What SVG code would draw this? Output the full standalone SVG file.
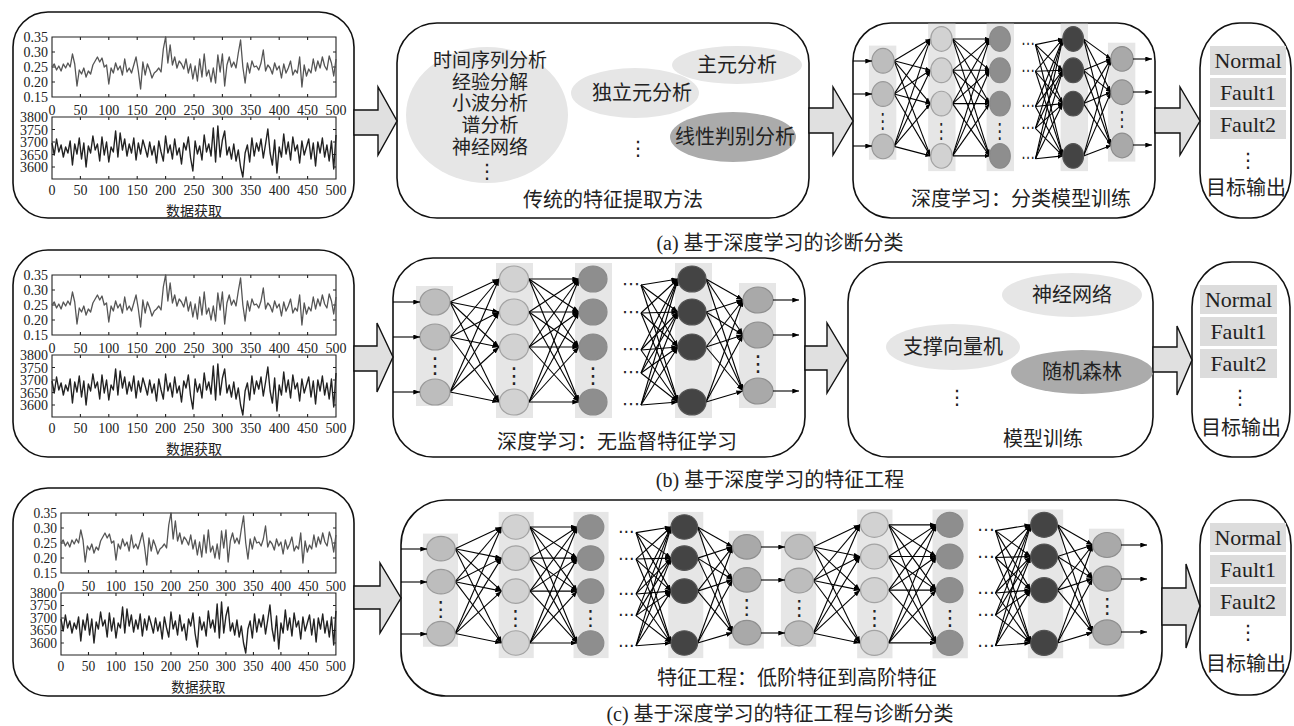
<svg xmlns="http://www.w3.org/2000/svg" width="1294" height="726" viewBox="0 0 1294 726">
<style>
.box{fill:#fff;stroke:#111;stroke-width:1.6}
.barr{fill:#e0e0e0;stroke:#111;stroke-width:1.4}
.bg{fill:#e6e6e6}
.e{fill:none;stroke:#000;stroke-width:1.1;marker-end:url(#ah);vector-effect:non-scaling-stroke}
.n1{fill:#bdbdbd;stroke:#999;stroke-width:1.2;vector-effect:non-scaling-stroke}
.n2{fill:#d2d2d2;stroke:#a3a3a3;stroke-width:1.2;vector-effect:non-scaling-stroke}
.n3{fill:#8e8e8e;stroke:#8a8a8a;stroke-width:1.2;vector-effect:non-scaling-stroke}
.n4{fill:#444;stroke:#555;stroke-width:1.2;vector-effect:non-scaling-stroke}
.n5{fill:#a9a9a9;stroke:#8e8e8e;stroke-width:1.2;vector-effect:non-scaling-stroke}
.cj{font-family:"Noto Sans CJK SC",sans-serif;font-size:20px;fill:#222;text-anchor:middle}
.cir{font-size:19px}
.cap{font-family:"Liberation Serif","Noto Sans CJK SC",serif;font-size:20px;fill:#222;text-anchor:middle}
.ax{font-family:"Liberation Serif",serif;font-size:14px;fill:#222}
.ay{text-anchor:end}
.axx{text-anchor:middle}
.fr{fill:none;stroke:#222;stroke-width:1.1;vector-effect:non-scaling-stroke}
.s1{fill:none;stroke:#555;stroke-width:1.3;stroke-linejoin:round;vector-effect:non-scaling-stroke}
.s2{fill:none;stroke:#222;stroke-width:1.4;stroke-linejoin:round;vector-effect:non-scaling-stroke}
.lt{fill:#e6e6e6}
.dk{fill:#ababab}
.lab{fill:#dcdcdc}
.nm{font-family:"Liberation Serif",serif;font-size:22px;fill:#222;text-anchor:middle}
.dt{font-family:"DejaVu Sans",sans-serif;fill:#222;text-anchor:middle}
</style>
<defs>
<marker id="ah" viewBox="0 0 8 6" refX="8" refY="3" markerWidth="7" markerHeight="5" orient="auto" markerUnits="userSpaceOnUse"><path d="M0,0L8,3L0,6z" fill="#000"/></marker>
<g id="plot">
<rect class="fr" x="0" y="0" width="284" height="60"/>
<rect class="fr" x="0" y="80" width="284" height="62"/>
<path class="fr" d="M28.4,0v3M56.8,0v3M85.2,0v3M113.6,0v3M142,0v3M170.4,0v3M198.8,0v3M227.2,0v3M255.6,0v3M28.4,60v-3M56.8,60v-3M85.2,60v-3M113.6,60v-3M142,60v-3M170.4,60v-3M198.8,60v-3M227.2,60v-3M255.6,60v-3M28.4,80v3M56.8,80v3M85.2,80v3M113.6,80v3M142,80v3M170.4,80v3M198.8,80v3M227.2,80v3M255.6,80v3M28.4,142v-3M56.8,142v-3M85.2,142v-3M113.6,142v-3M142,142v-3M170.4,142v-3M198.8,142v-3M227.2,142v-3M255.6,142v-3M0,15h3M0,30h3M0,45h3M284,15h-3M284,30h-3M284,45h-3M0,92.5h3M0,105h3M0,117.5h3M0,130h3M284,92.5h-3M284,105h-3M284,117.5h-3M284,130h-3"/>
<polyline class="s1" transform="scale(0.568,1)" points="0,30 4,27 8,33 12,29 16,34 20,27 24,31 28,26 32,30 36,17 40,27 44,49 48,33 52,37 56,31 60,40 64,34 68,37 72,28 76,24 80,20 84,25 88,21 92,30 96,28 100,47 104,31 108,36 112,26 116,33 120,29 124,38 128,22 132,35 136,31 140,36 144,28 148,20 152,34 156,52 160,25 164,38 168,27 172,33 176,41 180,36 184,34 188,31 192,35 196,12 200,0 204,26 208,8 212,28 216,20 220,31 224,24 228,27 232,32 236,22 240,36 244,27 248,42 252,29 256,44 260,22 264,40 268,17 272,39 276,33 280,45 284,31 288,46 292,18 296,35 300,17 304,49 308,28 312,20 316,30 320,25 324,31 328,16 332,3 336,30 340,46 344,26 348,36 352,24 356,30 360,29 364,33 368,26 372,13 376,34 380,28 384,31 388,37 392,26 396,33 400,29 404,41 408,27 412,36 416,31 420,24 424,38 428,33 432,36 436,20 440,50 444,28 448,39 452,32 456,36 460,22 464,34 468,24 472,31 476,20 480,29 484,33 488,19 492,26 496,39 500,22"/>
<polyline class="s2" transform="translate(0,80) scale(0.568,1)" points="0,26 4,38 8,22 12,35 16,28 20,40 24,30 28,36 32,24 36,48 40,27 44,37 48,21 52,42 56,26 60,50 64,29 68,36 72,19 76,33 80,27 84,44 88,20 92,38 96,25 100,45 104,30 108,35 112,14 116,40 120,16 124,33 128,22 132,39 136,27 140,36 144,21 148,43 152,26 156,37 160,23 164,31 168,40 172,25 176,38 180,29 184,46 188,24 192,35 196,44 200,19 204,36 208,28 212,42 216,22 220,38 224,31 228,47 232,26 236,33 240,20 244,41 248,54 252,24 256,37 260,29 264,43 268,18 272,35 276,27 280,39 284,11 288,45 292,9 296,40 300,23 304,14 308,38 312,30 316,42 320,27 324,44 328,33 332,50 336,60 340,36 344,28 348,45 352,21 356,39 360,26 364,34 368,22 372,41 376,27 380,12 384,36 388,48 392,23 396,56 400,30 404,40 408,17 412,37 416,25 420,43 424,20 428,34 432,28 436,46 440,24 444,38 448,30 452,22 456,42 460,26 464,49 468,25 472,36 476,21 480,40 484,28 488,44 492,24 496,52 500,18"/>
<g class="ax ay">
<text x="-4" y="5">0.35</text><text x="-4" y="20">0.30</text><text x="-4" y="35">0.25</text><text x="-4" y="50">0.20</text><text x="-4" y="65">0.15</text>
<text x="-4" y="85">3800</text><text x="-4" y="97.5">3750</text><text x="-4" y="110">3700</text><text x="-4" y="122.5">3650</text><text x="-4" y="135">3600</text>
</g>
<g class="ax axx">
<text x="0" y="78">0</text><text x="28.4" y="78">50</text><text x="56.8" y="78">100</text><text x="85.2" y="78">150</text><text x="113.6" y="78">200</text><text x="142" y="78">250</text><text x="170.4" y="78">300</text><text x="198.8" y="78">350</text><text x="227.2" y="78">400</text><text x="255.6" y="78">450</text><text x="284" y="78">500</text>
<text x="0" y="158">0</text><text x="28.4" y="158">50</text><text x="56.8" y="158">100</text><text x="85.2" y="158">150</text><text x="113.6" y="158">200</text><text x="142" y="158">250</text><text x="170.4" y="158">300</text><text x="198.8" y="158">350</text><text x="227.2" y="158">400</text><text x="255.6" y="158">450</text><text x="284" y="158">500</text>
</g>
<text class="cj" x="142" y="179" style="font-size:14px">数据获取</text>
</g>
<g id="net">
<rect class="bg" x="416" y="286" width="37" height="120"/>
<rect class="bg" x="496" y="263" width="37" height="155"/>
<rect class="bg" x="575" y="263" width="37" height="155"/>
<rect class="bg" x="675" y="263" width="37" height="155"/>
<rect class="bg" x="739" y="283" width="37" height="125"/>
<path class="e" d="M450,302L499,279"/><path class="e" d="M450,302L499,312"/><path class="e" d="M450,302L499,347"/><path class="e" d="M450,302L499,402"/>
<path class="e" d="M450,337L499,279"/><path class="e" d="M450,337L499,312"/><path class="e" d="M450,337L499,347"/><path class="e" d="M450,337L499,402"/>
<path class="e" d="M450,392L499,279"/><path class="e" d="M450,392L499,312"/><path class="e" d="M450,392L499,347"/><path class="e" d="M450,392L499,402"/>
<path class="e" d="M529,279L579,279"/><path class="e" d="M529,279L579,312"/><path class="e" d="M529,279L579,347"/><path class="e" d="M529,279L579,402"/>
<path class="e" d="M529,312L579,279"/><path class="e" d="M529,312L579,312"/><path class="e" d="M529,312L579,347"/><path class="e" d="M529,312L579,402"/>
<path class="e" d="M529,347L579,279"/><path class="e" d="M529,347L579,312"/><path class="e" d="M529,347L579,347"/><path class="e" d="M529,347L579,402"/>
<path class="e" d="M529,402L579,279"/><path class="e" d="M529,402L579,312"/><path class="e" d="M529,402L579,347"/><path class="e" d="M529,402L579,402"/>
<path class="e" d="M641,285L678,279"/><path class="e" d="M641,285L678,312"/><path class="e" d="M641,285L678,347"/><path class="e" d="M641,285L678,402"/>
<path class="e" d="M641,313L678,279"/><path class="e" d="M641,313L678,312"/><path class="e" d="M641,313L678,347"/><path class="e" d="M641,313L678,402"/>
<path class="e" d="M641,350L678,279"/><path class="e" d="M641,350L678,312"/><path class="e" d="M641,350L678,347"/><path class="e" d="M641,350L678,402"/>
<path class="e" d="M641,373L678,279"/><path class="e" d="M641,373L678,312"/><path class="e" d="M641,373L678,347"/><path class="e" d="M641,373L678,402"/>
<path class="e" d="M641,405L678,279"/><path class="e" d="M641,405L678,312"/><path class="e" d="M641,405L678,347"/><path class="e" d="M641,405L678,402"/>
<path class="e" d="M706,279L743,300"/><path class="e" d="M706,279L743,335"/><path class="e" d="M706,279L743,391"/>
<path class="e" d="M706,312L743,300"/><path class="e" d="M706,312L743,335"/><path class="e" d="M706,312L743,391"/>
<path class="e" d="M706,347L743,300"/><path class="e" d="M706,347L743,335"/><path class="e" d="M706,347L743,391"/>
<path class="e" d="M706,402L743,300"/><path class="e" d="M706,402L743,335"/><path class="e" d="M706,402L743,391"/>
<ellipse class="n1" cx="435" cy="302" rx="15" ry="13"/><ellipse class="n1" cx="435" cy="337" rx="15" ry="13"/><ellipse class="n1" cx="435" cy="392" rx="15" ry="13"/>
<ellipse class="n2" cx="514" cy="279" rx="14.5" ry="13"/><ellipse class="n2" cx="514" cy="312" rx="14.5" ry="13"/><ellipse class="n2" cx="514" cy="347" rx="14.5" ry="13"/><ellipse class="n2" cx="514" cy="402" rx="14.5" ry="13"/>
<ellipse class="n3" cx="593" cy="279" rx="14" ry="13"/><ellipse class="n3" cx="593" cy="312" rx="14" ry="13"/><ellipse class="n3" cx="593" cy="347" rx="14" ry="13"/><ellipse class="n3" cx="593" cy="402" rx="14" ry="13"/>
<ellipse class="n4" cx="692" cy="279" rx="14" ry="13"/><ellipse class="n4" cx="692" cy="312" rx="14" ry="13"/><ellipse class="n4" cx="692" cy="347" rx="14" ry="13"/><ellipse class="n4" cx="692" cy="402" rx="14" ry="13"/>
<ellipse class="n5" cx="758" cy="300" rx="15" ry="13"/><ellipse class="n5" cx="758" cy="335" rx="15" ry="13"/><ellipse class="n5" cx="758" cy="391" rx="15" ry="13"/>
<g class="dt" style="font-size:22px">
<text x="435" y="373">⋮</text><text x="514" y="383">⋮</text><text x="593" y="383">⋮</text><text x="758" y="371">⋮</text>
</g>
<g class="dt" style="font-size:18px">
<text x="631" y="290">⋯</text><text x="631" y="318">⋯</text><text x="631" y="355">⋯</text><text x="631" y="378">⋯</text><text x="631" y="410">⋯</text>
</g>
</g>
</defs>
<rect width="1294" height="726" fill="#fff"/>

<!-- Row (a) -->
<g id="a-data">
<rect class="box" x="13" y="12" width="341" height="206" rx="35"/>
<use href="#plot" transform="translate(52,37)"/>
</g>
<g id="a-traditional">
<rect class="box" x="397" y="23" width="412" height="195" rx="40"/>
<ellipse class="lt" cx="487" cy="115" rx="81" ry="68"/>
<ellipse class="lt" cx="737" cy="65" rx="65" ry="19"/>
<ellipse class="lt" cx="635" cy="93" rx="64" ry="25"/>
<ellipse class="dk" cx="733" cy="137" rx="63" ry="25"/>
<g class="cj">
<text class="cir" x="490" y="67">时间序列分析</text>
<text class="cir" x="490" y="89">经验分解</text>
<text class="cir" x="490" y="110">小波分析</text>
<text class="cir" x="490" y="132">谱分析</text>
<text class="cir" x="490" y="154">神经网络</text>
<text x="737" y="72">主元分析</text>
<text x="642" y="100">独立元分析</text>
<text x="735" y="144">线性判别分析</text>
<text x="613" y="207">传统的特征提取方法</text>
</g>
<g class="dt" style="font-size:20px"><text x="487" y="178">⋮</text><text x="638" y="155">⋮</text></g>
</g>
<g id="a-deep-learning">
<rect class="box" x="853" y="23" width="302" height="195" rx="38"/>
<use href="#net" transform="matrix(0.74,0,0,0.951,561.1,-226.4)"/>
<path class="e" d="M853,61H872"/><path class="e" d="M853,94H872"/><path class="e" d="M853,146H872"/>
<path class="e" d="M1133,59H1152"/><path class="e" d="M1133,92H1152"/><path class="e" d="M1133,145H1152"/>
<text class="cj" x="1021" y="206">深度学习：分类模型训练</text>
</g>
<g id="a-output">
<rect class="box" x="1200" y="23" width="91" height="195" rx="40" ry="45"/>
<rect class="lab" x="1210" y="46" width="76" height="29"/>
<rect class="lab" x="1210" y="78" width="76" height="29"/>
<rect class="lab" x="1210" y="110" width="76" height="29"/>
<text class="nm" x="1248" y="68">Normal</text>
<text class="nm" x="1248" y="100">Fault1</text>
<text class="nm" x="1248" y="132">Fault2</text>
<text class="dt" x="1248" y="167" style="font-size:20px">⋮</text>
<text class="cj" x="1246" y="195">目标输出</text>
</g>
<text class="cap" x="780" y="250">(a) 基于深度学习的诊断分类</text>

<!-- Row (b) -->
<g id="b-data">
<rect class="box" x="13" y="250" width="341" height="207" rx="35"/>
<use href="#plot" transform="translate(52,275)"/>
</g>
<g id="b-deep-learning">
<rect class="box" x="393" y="258" width="412" height="199" rx="40"/>
<use href="#net"/>
<path class="e" d="M393,302H420"/><path class="e" d="M393,337H420"/><path class="e" d="M393,392H420"/>
<path class="e" d="M773,300H799"/><path class="e" d="M773,335H799"/><path class="e" d="M773,391H799"/>
<text class="cj" x="617" y="449">深度学习：无监督特征学习</text>
</g>
<g id="b-model">
<rect class="box" x="848" y="262" width="305" height="195" rx="40"/>
<ellipse class="lt" cx="1072" cy="295" rx="70" ry="22"/>
<ellipse class="lt" cx="953" cy="347" rx="67" ry="23"/>
<ellipse class="dk" cx="1082" cy="372" rx="71" ry="22"/>
<g class="cj">
<text x="1072" y="302">神经网络</text>
<text x="953" y="354">支撑向量机</text>
<text x="1082" y="379">随机森林</text>
<text x="1043" y="446">模型训练</text>
</g>
<text class="dt" x="957" y="404" style="font-size:20px">⋮</text>
</g>
<g id="b-output">
<rect class="box" x="1192" y="262" width="98" height="195" rx="40" ry="45"/>
<rect class="lab" x="1200" y="285" width="77" height="29"/>
<rect class="lab" x="1200" y="317" width="77" height="29"/>
<rect class="lab" x="1200" y="349" width="77" height="29"/>
<text class="nm" x="1238.5" y="307">Normal</text>
<text class="nm" x="1238.5" y="339">Fault1</text>
<text class="nm" x="1238.5" y="371">Fault2</text>
<text class="dt" x="1240" y="404" style="font-size:20px">⋮</text>
<text class="cj" x="1241" y="435">目标输出</text>
</g>
<text class="cap" x="780" y="487">(b) 基于深度学习的特征工程</text>

<!-- Row (c) -->
<g id="c-data">
<rect class="box" x="13" y="488" width="341" height="208" rx="35"/>
<use href="#plot" transform="translate(61,513) scale(0.968,1)"/>
</g>
<g id="c-feature-engineering">
<rect class="box" x="401" y="500" width="761" height="196" rx="45"/>
<use href="#net" transform="matrix(0.947,0,0,0.943,29,263.9)"/>
<use href="#net" transform="matrix(0.9536,0,0,0.96,384.2,257)"/>
<path class="e" d="M401,549H427"/><path class="e" d="M401,582H427"/><path class="e" d="M401,634H427"/>
<path class="e" d="M761,547H785"/><path class="e" d="M761,580H785"/><path class="e" d="M761,633H785"/>
<path class="e" d="M1121,545H1147"/><path class="e" d="M1121,579H1147"/><path class="e" d="M1121,632H1147"/>
<text class="cj" x="797" y="685">特征工程：低阶特征到高阶特征</text>
</g>
<g id="c-output">
<rect class="box" x="1200" y="500" width="91" height="195" rx="40" ry="45"/>
<rect class="lab" x="1210" y="523" width="76" height="29"/>
<rect class="lab" x="1210" y="555" width="76" height="29"/>
<rect class="lab" x="1210" y="587" width="76" height="29"/>
<text class="nm" x="1248" y="545">Normal</text>
<text class="nm" x="1248" y="577">Fault1</text>
<text class="nm" x="1248" y="609">Fault2</text>
<text class="dt" x="1248" y="639" style="font-size:20px">⋮</text>
<text class="cj" x="1246" y="671">目标输出</text>
</g>
<text class="cap" x="780" y="721">(c) 基于深度学习的特征工程与诊断分类</text>

<g id="connectors">
<polygon class="barr" points="354,110 378,110 378,87 397,121 378,155 378,135 354,135"/>
<polygon class="barr" points="809,108 833,108 833,87 853,121 833,155 833,133 809,133"/>
<polygon class="barr" points="1155,108 1180,108 1180,87 1200,121 1180,155 1180,133 1155,133"/>
<polygon class="barr" points="354,346 377,346 377,323 393,357 377,392 377,371 354,371"/>
<polygon class="barr" points="805,346 827,346 827,323 848,358 827,393 827,370 805,370"/>
<polygon class="barr" points="1153,347 1177,347 1177,326 1192,360 1177,395 1177,372 1153,372"/>
<polygon class="barr" points="354,586 380,586 380,563 401,598 380,633 380,609 354,609"/>
<polygon class="barr" points="1162,588 1186,588 1186,564 1200,606 1186,648 1186,625 1162,625"/>
</g>
</svg>
